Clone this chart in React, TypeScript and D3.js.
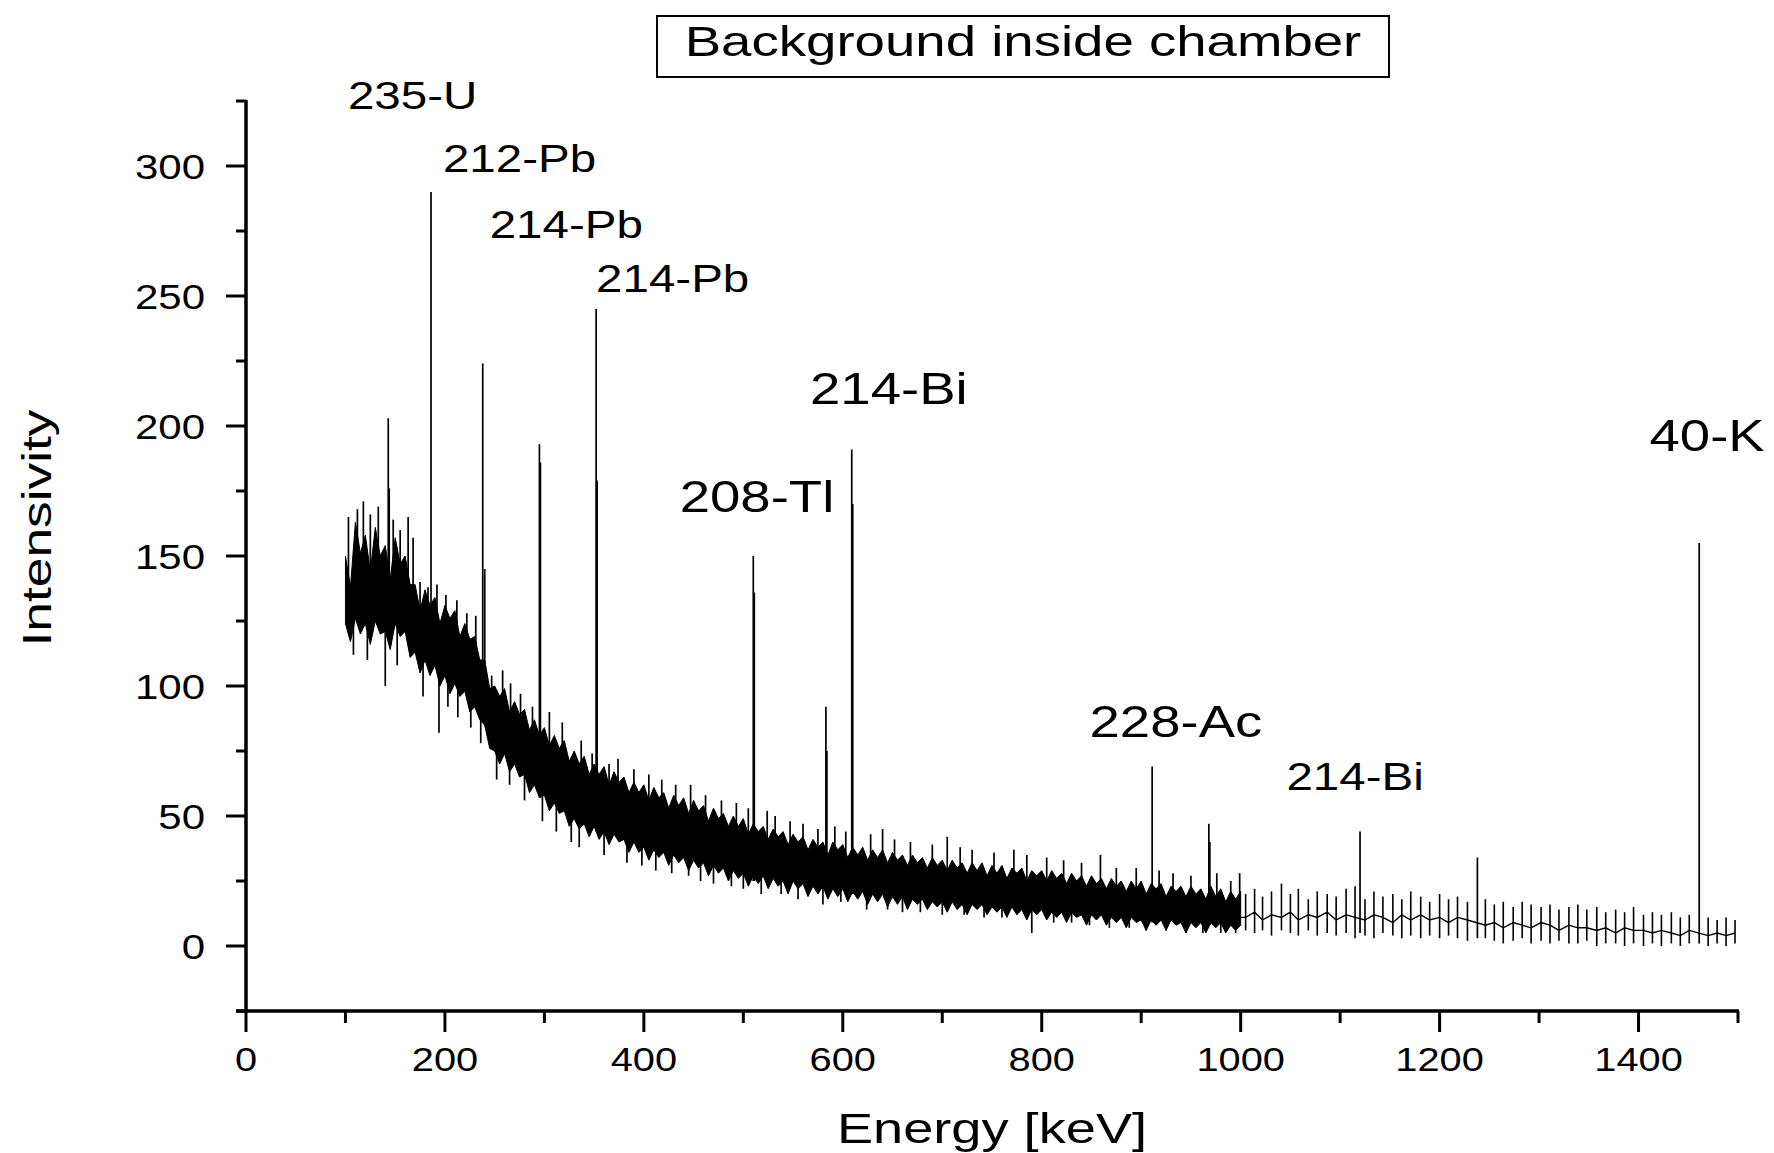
import React from 'react';
import * as d3 from 'd3';

// ---------- data ----------
const xMajorTicks = [0, 200, 400, 600, 800, 1000, 1200, 1400];
const xMinorTicks = [100, 300, 500, 700, 900, 1100, 1300, 1500];
const yMajorTicks = [0, 50, 100, 150, 200, 250, 300];
const yMinorTicks = [-25, 25, 75, 125, 175, 225, 275, 325];

// dense part of the spectrum (100-1000 keV): ragged band, upper / lower edge
const bandE = [100, 105, 110, 115, 120, 125, 130, 135, 140, 145, 150, 155, 160, 165, 170, 175, 180, 185, 190, 195,
  200, 205, 210, 215, 220, 225, 230, 235, 240, 245, 250, 255, 260, 265, 270, 275, 280, 285, 290, 295,
  300, 305, 310, 315, 320, 325, 330, 335, 340, 345, 350, 355, 360, 365, 370, 375, 380, 385, 390, 395,
  400, 405, 410, 415, 420, 425, 430, 435, 440, 445, 450, 455, 460, 465, 470, 475, 480, 485, 490, 495,
  500, 505, 510, 515, 520, 525, 530, 535, 540, 545, 550, 555, 560, 565, 570, 575, 580, 585, 590, 595,
  600, 605, 610, 615, 620, 625, 630, 635, 640, 645, 650, 655, 660, 665, 670, 675, 680, 685, 690, 695,
  700, 705, 710, 715, 720, 725, 730, 735, 740, 745, 750, 755, 760, 765, 770, 775, 780, 785, 790, 795,
  800, 805, 810, 815, 820, 825, 830, 835, 840, 845, 850, 855, 860, 865, 870, 875, 880, 885, 890, 895,
  900, 905, 910, 915, 920, 925, 930, 935, 940, 945, 950, 955, 960, 965, 970, 975, 980, 985, 990, 995, 1000];
const bandHi = [150, 138, 163, 151, 158, 144, 161, 150, 154, 141, 157, 147, 150, 139, 139, 129, 137, 131, 134, 124,
  131, 126, 129, 119, 124, 118, 119, 110, 110, 99, 100, 96, 99, 90, 94, 89, 91, 83, 87, 81,
  84, 77, 81, 76, 79, 71, 75, 70, 73, 66, 70, 66, 69, 62, 67, 63, 65, 59, 63, 59,
  62, 56, 61, 57, 59, 53, 58, 54, 57, 51, 56, 52, 54, 48, 53, 49, 51, 46, 50, 46,
  49, 43, 47, 44, 46, 41, 45, 42, 44, 39, 43, 40, 42, 37, 41, 38, 40, 35, 40, 37,
  39, 34, 38, 35, 38, 33, 37, 34, 37, 32, 36, 33, 35, 31, 35, 32, 34, 30, 34, 31,
  33, 29, 33, 30, 32, 28, 32, 29, 32, 27, 31, 28, 31, 26, 30, 28, 30, 25, 29, 27,
  29, 25, 29, 26, 28, 24, 28, 25, 27, 23, 27, 24, 26, 22, 26, 23, 25, 21, 25, 22,
  25, 20, 24, 22, 24, 19, 23, 21, 23, 19, 23, 20, 22, 18, 23, 19, 22, 17, 21, 18, 21];
const bandLo = [124, 117, 126, 120, 124, 116, 125, 120, 121, 114, 124, 119, 121, 111, 113, 105, 110, 104, 108, 100,
  104, 97, 101, 96, 98, 90, 92, 87, 85, 76, 75, 70, 74, 67, 70, 65, 66, 59, 62, 57,
  58, 52, 55, 51, 52, 46, 49, 45, 47, 42, 46, 41, 44, 39, 43, 40, 41, 36, 40, 36,
  38, 33, 37, 34, 36, 31, 35, 32, 34, 29, 33, 30, 32, 27, 31, 28, 30, 25, 29, 26,
  28, 23, 27, 24, 27, 22, 26, 23, 25, 20, 25, 22, 24, 19, 23, 20, 23, 18, 22, 19,
  22, 17, 21, 18, 21, 16, 20, 17, 20, 15, 19, 16, 19, 14, 18, 16, 18, 14, 17, 15,
  17, 13, 17, 14, 16, 12, 16, 14, 16, 12, 15, 13, 15, 11, 15, 12, 14, 10, 14, 12,
  14, 10, 13, 11, 13, 9, 13, 11, 12, 8, 12, 10, 12, 8, 11, 9, 11, 7, 11, 9,
  10, 6, 10, 8, 10, 6, 10, 8, 9, 5, 9, 7, 9, 5, 9, 7, 9, 5, 8, 6, 8];

// vertical excursions: gamma peaks and noise spikes (energy, low end, high end)
const spikeE = [
  143, 144, 186, 238, 240, 295, 296, 352, 353, 510, 511, 583, 584, 609, 610, 911, 968, 969, 1120, 1238, 1461,
  103, 112, 118, 125, 133, 148, 155, 163, 168, 175, 183, 192, 201, 212, 222, 231, 247, 258, 266, 276, 288,
  305, 318, 337, 348, 365, 374, 390, 405, 418, 432, 447, 462, 478, 493, 505, 524, 532, 547, 560, 575, 592,
  603, 628, 640, 652, 668, 690, 705, 718, 730, 752, 772, 785, 805, 822, 840, 859, 875, 895, 918, 932, 950,
  976, 990, 999,
  108, 122, 140, 152, 178, 194, 203, 213, 226, 236, 252, 265, 280, 298, 312, 327, 335, 360, 383, 398, 412,
  428, 445, 457, 470, 488, 500, 518, 538, 555, 580, 598, 624, 645, 660, 678, 700, 722, 742, 760, 790, 812,
  830, 848, 868, 888, 905, 925, 945, 962, 980, 995];
const spikeLo = [
  120, 120, 106, 90, 85, 58, 58, 44, 44, 25, 25, 21, 21, 20, 20, 9, 8, 8, 5, 3, 1,
  135, 138, 140, 138, 140, 138, 135, 133, 128, 122, 120, 118, 115, 112, 108, 104, 88, 85, 82, 78, 72,
  68, 64, 60, 56, 55, 54, 50, 48, 46, 45, 43, 41, 39, 37, 36, 35, 34, 32, 31, 30, 29,
  28, 27, 27, 26, 25, 24, 24, 23, 23, 22, 21, 21, 20, 19, 18, 18, 17, 16, 16, 15, 15,
  14, 13, 13,
  112, 110, 100, 108, 96, 82, 92, 88, 84, 78, 64, 62, 56, 48, 44, 40, 38, 35, 32, 31, 29,
  28, 27, 25, 24, 23, 22, 20, 20, 18, 16, 17, 14, 14, 13, 13, 12, 12, 11, 11, 5, 9,
  9, 8, 7, 7, 6, 6, 5, 5, 5, 5];
const spikeHi = [
  203, 176, 290, 224, 145, 193, 186, 245, 179, 150, 136, 92, 75, 191, 170, 69, 47, 40, 44, 34, 155,
  165, 168, 171, 166, 169, 164, 160, 165, 157, 140, 138, 139, 135, 133, 128, 127, 104, 106, 101, 97, 92,
  90, 86, 79, 74, 70, 72, 68, 66, 64, 62, 62, 58, 56, 55, 53, 52, 50, 48, 47, 45, 46,
  44, 43, 45, 41, 40, 39, 42, 38, 37, 36, 37, 35, 34, 33, 32, 35, 30, 30, 29, 28, 27,
  28, 25, 28,
  138, 140, 138, 138, 125, 120, 115, 112, 108, 104, 88, 84, 76, 70, 66, 62, 60, 55, 52, 50, 48,
  46, 44, 42, 41, 39, 37, 35, 33, 32, 30, 29, 28, 27, 26, 25, 24, 23, 23, 22, 21, 20,
  19, 19, 18, 17, 16, 16, 15, 15, 14, 13];

// sparse part of the spectrum (1000-1500 keV)
const tailE = [1005, 1014, 1022, 1031, 1041, 1050, 1058, 1068, 1077, 1087, 1096, 1106, 1115, 1125, 1134, 1143,
  1153, 1162, 1171, 1181, 1190, 1200, 1209, 1218, 1228, 1246, 1255, 1264, 1274, 1283, 1292, 1302, 1311,
  1320, 1330, 1339, 1348, 1358, 1367, 1377, 1386, 1395, 1405, 1414, 1423, 1433, 1442, 1451, 1470, 1479,
  1488, 1497];
const tailBase = [11, 13, 10, 12, 11, 13, 10, 12, 11, 13, 10, 12, 11, 10, 12, 11,
  9, 12, 10, 12, 10, 11, 9, 11, 10, 8, 9, 7, 9, 8, 7, 9, 8,
  6, 8, 7, 7, 6, 7, 5, 7, 6, 6, 5, 6, 5, 4, 6, 4, 5,
  4, 5];
const tailHi = [20, 22, 19, 21, 24, 20, 22, 18, 21, 20, 19, 22, 23, 18, 21, 19,
  20, 18, 21, 19, 17, 20, 18, 19, 17, 18, 16, 17, 15, 17, 16, 15, 16,
  14, 15, 16, 14, 15, 13, 14, 13, 15, 12, 13, 12, 13, 11, 12, 11, 10,
  11, 10];
const tailLo = [6, 5, 6, 4, 6, 5, 4, 6, 4, 5, 4, 5, 3, 4, 3, 5,
  4, 3, 4, 3, 4, 3, 4, 3, 2, 3, 2, 1, 2, 3, 1, 2, 1,
  2, 1, 1, 2, 0, 1, 1, 0, 1, 0, 1, 0, 1, 0, 1, 0, 1,
  0, 1];

// peak annotations (anchor in data units: energy, intensity)
const annText = ['235-U', '212-Pb', '214-Pb', '214-Pb', '214-Bi', '208-Tl', '40-K', '228-Ac', '214-Bi'];
const annE = [102.5, 198, 245, 352, 567, 436, 1411, 848, 1046];
const annV = [322, 297.7, 272.3, 251.5, 208.5, 167.1, 190.4, 80.4, 60];
const annBig = [false, false, false, false, true, true, true, true, false];

const titleText = 'Background inside chamber';
const xTitle = 'Energy [keV]';
const yTitle = 'Intensivity';

// ---------- chart ----------
const FONT = "'Liberation Sans', Arial, Helvetica, sans-serif";

function T({ x, y, size, sx, anchor = 'start', rotate = 0, children }: any) {
  return (
    <text
      transform={`translate(${x},${y}) rotate(${rotate}) scale(${sx},1)`}
      textAnchor={anchor}
      fontFamily={FONT}
      fontSize={size}
      fill="#000"
    >
      {children}
    </text>
  );
}

export default function App() {
  const x = d3.scaleLinear().domain([0, 1500]).range([246, 1738]);
  const y = d3.scaleLinear().domain([-25, 325]).range([1011, 101]);

  const band = bandE.map((e, i) => ({ e, hi: bandHi[i], lo: bandLo[i] }));
  const areaGen = d3.area<any>().x(d => x(d.e)).y0(d => y(d.lo)).y1(d => y(d.hi));
  const bandPath = areaGen(band) || '';

  const tail = tailE.map((e, i) => ({ e, v: tailBase[i] }));
  const lineGen = d3.line<any>().x(d => x(d.e)).y(d => y(d.v));
  const tailPath = lineGen([{ e: bandE[bandE.length - 1], v: tailBase[0] }, ...tail]) || '';

  const axisW = 3.5;

  return (
    <svg width={1774} height={1153} style={{ position: 'absolute', left: 0, top: 0, background: '#fff' }}>
      <rect x={0} y={0} width={1774} height={1153} fill="#fff" />

      {/* title box */}
      <rect x={657} y={16} width={732} height={61} fill="none" stroke="#000" strokeWidth={2} />
      <T x={1023} y={56} size={43} sx={1.27} anchor="middle">{titleText}</T>

      {/* data */}
      <path d={bandPath} fill="#000" stroke="#000" strokeWidth={1} />
      {spikeE.map((e, i) => (
        <line key={'s' + i} x1={x(e)} x2={x(e)} y1={y(spikeLo[i])} y2={y(spikeHi[i])} stroke="#000" strokeWidth={1.7} />
      ))}
      <path d={tailPath} fill="none" stroke="#000" strokeWidth={1.4} />
      {tailE.map((e, i) => (
        <line key={'t' + i} x1={x(e)} x2={x(e)} y1={y(tailLo[i])} y2={y(tailHi[i])} stroke="#000" strokeWidth={1.6} />
      ))}

      {/* axes */}
      <line x1={x(0)} x2={x(0)} y1={y(325) - 1} y2={y(-25) + axisW / 2} stroke="#000" strokeWidth={axisW} />
      <line x1={x(0) - 10} x2={x(1500) + 1} y1={y(-25)} y2={y(-25)} stroke="#000" strokeWidth={axisW} />
      {yMajorTicks.map(v => (
        <g key={'ym' + v}>
          <line x1={x(0) - 20} x2={x(0)} y1={y(v)} y2={y(v)} stroke="#000" strokeWidth={3} />
          <T x={205} y={y(v) + 12.5} size={35} sx={1.2} anchor="end">{v}</T>
        </g>
      ))}
      {yMinorTicks.map(v => (
        <line key={'yn' + v} x1={x(0) - 10} x2={x(0)} y1={y(v)} y2={y(v)} stroke="#000" strokeWidth={3} />
      ))}
      {xMajorTicks.map(v => (
        <g key={'xm' + v}>
          <line x1={x(v)} x2={x(v)} y1={y(-25)} y2={y(-25) + 21} stroke="#000" strokeWidth={3} />
          <T x={x(v)} y={1071} size={34} sx={1.17} anchor="middle">{v}</T>
        </g>
      ))}
      {xMinorTicks.map(v => (
        <line key={'xn' + v} x1={x(v)} x2={x(v)} y1={y(-25)} y2={y(-25) + 12} stroke="#000" strokeWidth={3} />
      ))}

      {/* axis titles */}
      <T x={992} y={1143} size={43} sx={1.26} anchor="middle">{xTitle}</T>
      <T x={51} y={528} size={41} sx={1.3} anchor="middle" rotate={-90}>{yTitle}</T>

      {/* annotations */}
      {annText.map((t, i) => (
        <T key={'a' + i} x={x(annE[i])} y={y(annV[i])} size={annBig[i] ? 44 : 38} sx={annBig[i] ? 1.24 : 1.25}>{t}</T>
      ))}
    </svg>
  );
}
